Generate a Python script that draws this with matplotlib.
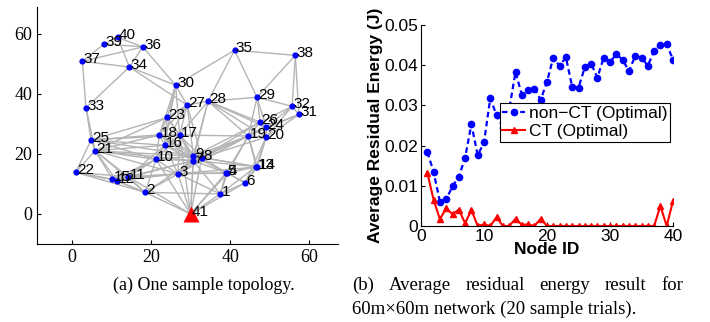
import matplotlib
matplotlib.use('Agg')
import matplotlib.pyplot as plt

# ---- data: sample topology (node id -> x, y) ----
node_ids = list(range(1, 41))
node_x = [37.5, 18.5, 26.8, 39.3, 39.0, 43.8, 30.6, 32.8, 30.7, 21.2,
          14.2, 11.3, 46.6, 46.9, 10.2, 23.4, 27.2, 22.1, 44.6, 49.1,
          5.8, 0.9, 24.1, 49.1, 4.8, 47.6, 29.1, 34.4, 46.8, 26.2,
          57.4, 55.7, 3.5, 14.5, 41.1, 17.9, 2.6, 56.5, 8.1, 11.5]
node_y = [6.7, 7.2, 13.4, 13.6, 13.8, 10.4, 17.8, 18.8, 19.3, 18.2,
          12.4, 11.1, 15.8, 15.7, 11.6, 22.9, 26.3, 26.4, 26.0, 25.6,
          21.1, 13.9, 32.2, 28.9, 24.7, 30.6, 36.3, 37.6, 38.9, 42.9,
          33.2, 35.9, 35.4, 49.0, 54.6, 55.7, 50.9, 52.9, 56.7, 58.9]
sink_id = 41
sink_x, sink_y = 30.0, 0.0

edges = [
    (40, 39), (40, 36), (39, 36), (39, 37), (37, 36), (37, 34), (40, 34), (36, 34),
    (37, 33), (33, 34), (34, 30), (34, 27), (36, 30), (33, 25), (33, 21),
    (30, 35), (30, 23), (30, 27), (30, 18), (30, 17), (30, 16),
    (35, 28), (35, 29), (35, 38), (38, 29), (38, 32), (38, 31),
    (29, 28), (29, 32), (29, 26), (29, 24), (29, 19),
    (28, 27), (28, 26), (28, 24), (28, 20), (28, 19), (28, 17), (28, 9), (28, 7),
    (27, 23), (27, 17), (27, 18), (27, 16), (27, 9), (27, 8),
    (32, 31), (32, 26), (32, 24), (32, 20), (31, 24), (31, 20), (31, 19),
    (26, 24), (26, 20), (26, 19), (24, 20), (19, 20), (19, 13), (19, 14), (20, 13),
    (20, 14), (19, 4), (19, 5), (20, 6), (19, 9), (19, 8), (19, 7), (26, 8), (20, 8),
    (19, 17), (26, 9), (24, 7), (19, 3),
    (13, 14), (13, 4), (13, 5), (14, 6), (13, 6), (13, 1), (14, 8), (13, 9), (13, 7), (14, 3),
    (4, 5), (4, 1), (5, 6), (4, 6), (4, 7), (5, 8), (4, 9), (4, 3), (5, 3),
    (4, 41), (1, 41), (6, 41), (1, 6), (1, 7), (1, 3), (1, 2), (1, 5),
    (23, 18), (23, 17), (23, 16), (23, 25), (23, 21), (23, 9),
    (18, 17), (18, 16), (18, 10), (18, 25), (18, 21), (18, 9), (18, 7), (18, 8),
    (17, 16), (17, 9), (17, 7), (17, 8), (17, 3), (17, 10), (17, 41),
    (16, 10), (16, 9), (16, 7), (16, 3), (16, 25), (16, 21), (16, 11),
    (10, 7), (10, 9), (10, 3), (10, 2), (10, 11), (10, 12), (10, 15), (10, 21), (10, 25),
    (9, 8), (9, 7), (7, 8), (7, 3), (8, 3), (9, 3), (7, 41), (9, 41), (3, 41), (2, 41),
    (3, 2), (3, 11), (3, 12), (3, 15), (11, 41), (10, 41), (8, 41), (5, 41),
    (25, 21), (25, 22), (21, 22), (21, 15), (21, 12), (21, 11), (21, 2), (22, 15),
    (22, 12), (22, 2), (22, 11), (25, 17), (25, 9), (21, 9), (21, 7), (21, 3),
    (15, 12), (15, 11), (12, 11), (15, 2), (12, 2), (11, 2), (11, 7), (12, 7), (2, 7),
]

# ---- data: average residual energy per node ----
node_axis = list(range(1, 41))
non_ct = [0.0184, 0.0135, 0.0060, 0.0066, 0.0099, 0.0122, 0.0170, 0.0253, 0.0176, 0.0208,
          0.0318, 0.0275, 0.0245, 0.0290, 0.0383, 0.0327, 0.0339, 0.0342, 0.0314, 0.0359,
          0.0419, 0.0398, 0.0420, 0.0346, 0.0344, 0.0395, 0.0404, 0.0369, 0.0419, 0.0408,
          0.0427, 0.0414, 0.0385, 0.0423, 0.0419, 0.0399, 0.0435, 0.0451, 0.0452, 0.0414]
ct = [0.0133, 0.0065, 0.0017, 0.0044, 0.0029, 0.0041, 0.0007, 0.0040, 0.0000, 0.0004,
      0.0000, 0.0022, 0.0000, 0.0000, 0.0018, 0.0003, 0.0004, 0.0000, 0.0018, 0.0000,
      0.0000, 0.0000, 0.0000, 0.0000, 0.0000, 0.0000, 0.0000, 0.0000, 0.0000, 0.0000,
      0.0000, 0.0000, 0.0000, 0.0000, 0.0000, 0.0000, 0.0000, 0.0050, 0.0000, 0.0062]

W, H = 710, 322
fig = plt.figure(figsize=(W / 100, H / 100), dpi=100)

# ---------- (a) topology ----------
ax1 = fig.add_axes([37/W, 1 - 244/H, 301/W, 237/H])
pos = {i: (x, y) for i, x, y in zip(node_ids, node_x, node_y)}
pos[sink_id] = (sink_x, sink_y)
for a, b in edges:
    ax1.plot([pos[a][0], pos[b][0]], [pos[a][1], pos[b][1]], color='#b4b4b4', lw=1.0, zorder=1)
ax1.plot(node_x, node_y, 'o', color='blue', ms=4.5, mec='none', zorder=3)
ax1.plot(sink_x, sink_y, '^', color='red', ms=12, mec='none', zorder=3)
for i, x, y in zip(node_ids + [sink_id], node_x + [sink_x], node_y + [sink_y]):
    ax1.annotate(str(i), (x, y), xytext=(1, 1.5), textcoords='offset points',
                 ha='left', va='center', fontsize=11, family='Liberation Sans', zorder=4)
ax1.set_xlim(-8.9, 67.3)
ax1.set_ylim(-10, 69)
ax1.set_xticks([0, 20, 40, 60])
ax1.set_yticks([0, 20, 40, 60])
ax1.spines['top'].set_visible(False)
ax1.spines['right'].set_visible(False)
ax1.tick_params(direction='in', length=3)
for lbl in ax1.get_xticklabels() + ax1.get_yticklabels():
    lbl.set_family('Liberation Serif')
    lbl.set_fontsize(13)

# ---------- (b) residual energy ----------
ax2 = fig.add_axes([421/W, 1 - 226/H, 252/W, 201/H])
ax2.plot(node_axis, non_ct, color='blue', ls=(0, (2.5, 1.6)), lw=1.6,
         marker='o', ms=4.5, label='non\u2212CT (Optimal)')
ax2.plot(node_axis, ct, color='red', ls='-', lw=1.5,
         marker='^', ms=5, label='CT (Optimal)')
ax2.set_xlim(0, 40)
ax2.set_ylim(0, 0.05)
ax2.set_xticks([0, 10, 20, 30, 40])
ax2.set_yticks([0, 0.01, 0.02, 0.03, 0.04, 0.05])
ax2.set_yticklabels(['0', '0.01', '0.02', '0.03', '0.04', '0.05'])
ax2.spines['top'].set_visible(False)
ax2.spines['right'].set_visible(False)
ax2.tick_params(direction='in', length=3, labelsize=12.5, pad=2)
for lbl in ax2.get_xticklabels() + ax2.get_yticklabels():
    lbl.set_family('Liberation Sans')
ax2.set_xlabel('Node ID', fontsize=12.5, fontweight='bold', family='Liberation Sans', labelpad=-1)
ax2.set_ylabel('Average Residual Energy (J)', fontsize=12.5, fontweight='bold',
               family='Liberation Sans', labelpad=1)
leg = ax2.legend(loc='upper left', bbox_to_anchor=(0.313, 0.612), fancybox=False,
                 framealpha=1, edgecolor='black', borderaxespad=0, handlelength=1.3,
                 prop={'family': 'Liberation Sans', 'size': 12.5}, borderpad=0.15,
                 labelspacing=0.2, handletextpad=0.2)
leg.get_frame().set_linewidth(0.8)

# ---------- captions ----------
fig.text(204/W, 1 - 285/H, '(a) One sample topology.', ha='center', va='center',
         family='Liberation Serif', fontsize=13)

renderer = fig.canvas.get_renderer()
# first line justified to the column width
words = [fig.text(0, 1 - 285/H, w, ha='left', va='center', family='Liberation Serif',
                  fontsize=13.5) for w in '(b) Average residual energy result for'.split(' ')]
widths = [t.get_window_extent(renderer).width for t in words]
gap = (683 - 352 - sum(widths)) / (len(words) - 1)
x = 352
for t, w in zip(words, widths):
    t.set_x(x / W)
    x += w + gap
fig.text(352/W, 1 - 309/H, '60m\u00d760m network (20 sample trials).', ha='left', va='center',
         family='Liberation Serif', fontsize=13.5)

fig.savefig('out.png', dpi=100)
